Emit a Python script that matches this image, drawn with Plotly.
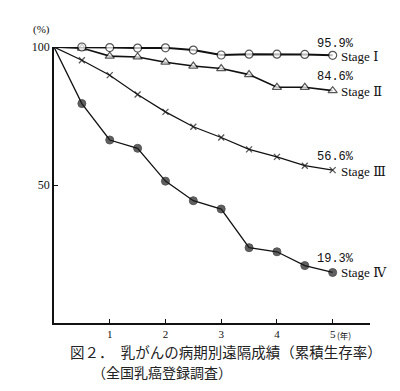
import plotly.graph_objects as go

years = [0, 0.5, 1, 1.5, 2, 2.5, 3, 3.5, 4, 4.5, 5]
stage1 = [100, 100, 99.8, 99.6, 99.7, 98.9, 97.1, 97.4, 97.4, 97.3, 97.0]
stage2 = [100, 99.6, 96.7, 96.4, 94.5, 93.1, 92.2, 90.0, 85.4, 85.4, 84.2]
stage3 = [100, 95.2, 89.8, 82.8, 76.5, 71.1, 67.2, 62.9, 60.2, 57.0, 55.4]
stage4 = [100, 79.5, 66.3, 63.3, 51.4, 44.3, 41.3, 27.3, 25.8, 20.8, 18.3]
final_labels = ["95.9%", "84.6%", "56.6%", "19.3%"]
stage_names = ["Stage Ⅰ", "Stage Ⅱ", "Stage Ⅲ", "Stage Ⅳ"]
x_ticks = [1, 2, 3, 4, 5]
x_ticktext = ["1", "2", "3", "4", "5"]
y_ticks = [50, 100]
y_ticktext = ["50", "100"]

serif = "Liberation Serif, DejaVu Serif, serif"
mono = "Liberation Mono, DejaVu Sans Mono, monospace"
cjk = "Noto Sans CJK JP"

fig = go.Figure()

msize0 = [0] + [8] * (len(years) - 1)

fig.add_trace(go.Scatter(
    x=years, y=stage4, mode="lines+markers", cliponaxis=False,
    line=dict(color="#111", width=1.3),
    marker=dict(symbol="circle", size=msize0, color="#1e1e1e", line=dict(color="#111", width=1))))
fig.add_trace(go.Scatter(
    x=years, y=stage3, mode="lines+markers", cliponaxis=False,
    line=dict(color="#111", width=1.2),
    marker=dict(symbol="x-thin", size=[0] + [6] * (len(years) - 1), color="#111", line=dict(color="#111", width=1.3))))
fig.add_trace(go.Scatter(
    x=years, y=stage2, mode="lines+markers", cliponaxis=False,
    line=dict(color="#111", width=1.6),
    marker=dict(symbol="triangle-up", size=msize0, color="white", line=dict(color="#111", width=1.2))))
fig.add_trace(go.Scatter(
    x=years, y=stage1, mode="lines+markers", cliponaxis=False,
    line=dict(color="#111", width=2),
    marker=dict(symbol="circle", size=msize0, color="white", line=dict(color="#111", width=1.2))))

finals = [stage1[-1], stage2[-1], stage3[-1], stage4[-1]]
pct_shift = [11, 13.5, 13.3, 13.7]
name_shift = [-1.5, -0.5, -1, 0]
for lab, name, v, ps, ns in zip(final_labels, stage_names, finals, pct_shift, name_shift):
    fig.add_annotation(x=5, y=v, xref="x", yref="y", text=lab, showarrow=False,
                       xanchor="center", yanchor="middle", xshift=3, yshift=ps,
                       font=dict(family=mono, size=12, color="#111"))
    fig.add_annotation(x=5, y=v, xref="x", yref="y", text=name, showarrow=False,
                       xanchor="left", yanchor="middle", xshift=6, yshift=ns,
                       font=dict(family=serif, size=13, color="#111"))

fig.add_annotation(x=5, y=0, xref="x", yref="y", text="(年)", showarrow=False,
                   xanchor="left", yanchor="top", xshift=2, yshift=-4,
                   font=dict(family=cjk, size=8.5, color="#111"))
fig.add_annotation(x=0, y=100, xref="x", yref="y", text="(%)", showarrow=False,
                   xanchor="right", yanchor="bottom", xshift=-2, yshift=9,
                   font=dict(family=serif, size=11, color="#111"))

# page body has an 8px margin, so pixel targets are shifted by -8
OFF = 8
caps = [("図２．　乳がんの病期別遠隔成績（累積生存率）", 68, 351.5, 14.5),
        ("（全国乳癌登録調査）", 90, 372, 14)]

W, H = 400 - OFF, 391 - OFF
L, T = 53.5 - OFF, 46.7 - OFF
R = W - (370 - OFF)
B = H - (323.3 - OFF)
pw, ph = W - L - R, H - T - B

for txt, px, py, fs in caps:
    fig.add_annotation(x=(px - OFF - L) / pw, y=1 - (py - OFF - T) / ph, xref="paper", yref="paper",
                       text=txt, showarrow=False, xanchor="left", yanchor="middle",
                       font=dict(family=cjk, size=fs, color="#222"))

fig.update_layout(
    width=W, height=H, margin=dict(l=L, r=R, t=T, b=B, autoexpand=False),
    paper_bgcolor="white", plot_bgcolor="white", showlegend=False,
    xaxis=dict(range=[0, 5.67], showgrid=False, zeroline=False, showline=True,
               linecolor="#111", linewidth=1.5, ticks="inside", ticklen=4, tickcolor="#111",
               tickvals=x_ticks, ticktext=x_ticktext,
               tickfont=dict(family=serif, size=11, color="#111")),
    yaxis=dict(range=[0, 100], showgrid=False, zeroline=False, showline=True,
               linecolor="#111", linewidth=1.5, ticks="inside", ticklen=4, tickcolor="#111",
               tickvals=y_ticks, ticktext=y_ticktext,
               tickfont=dict(family=serif, size=12, color="#111")),
)

fig.write_html("out.html")
